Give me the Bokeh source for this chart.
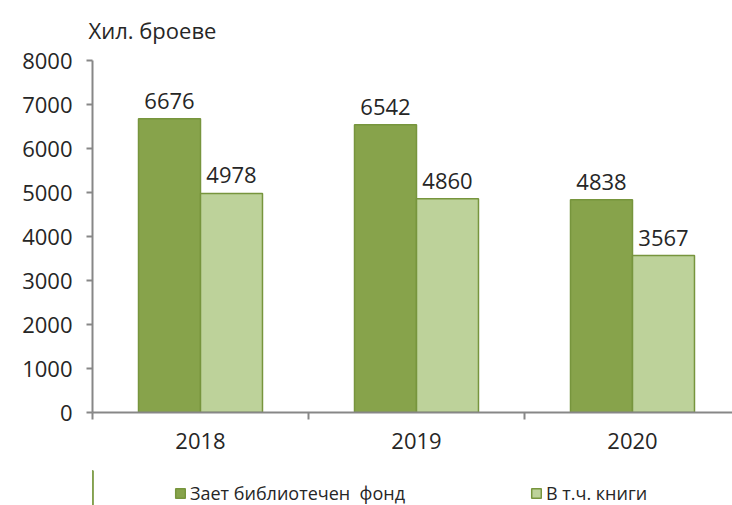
from bokeh.plotting import figure
from bokeh.layouts import column
from bokeh.models import (ColumnDataSource, FixedTicker, LabelSet, Legend,
                          LegendItem, Range1d)
from bokeh.core.properties import value
from bokeh.transform import dodge
from bokeh.embed import file_html
from bokeh.resources import INLINE

years = ["2018", "2019", "2020"]
fund = [6676, 6542, 4838]
books = [4978, 4860, 3567]
series_names = ["Зает библиотечен  фонд", "В т.ч. книги"]
y_ticks = [0, 1000, 2000, 3000, 4000, 5000, 6000, 7000, 8000]
unit_label = "Хил. броеве"

FONT = "Open Sans"
TXT = "#262626"
AX = "#878787"
DARK = "#87A34B"
LIGHT = "#BDD29A"
EDGE = "#77953D"
FS = "22px"

centers = [i + 0.5 for i in range(len(years))]
src = ColumnDataSource(dict(x=centers, fund=fund, books=books,
                            fund_t=[str(v) for v in fund],
                            books_t=[str(v) for v in books]))

p = figure(frame_width=640, frame_height=352, output_backend="svg",
           toolbar_location=None,
           x_range=Range1d(0, 2.963), y_range=Range1d(0, 8000),
           min_border_left=92, min_border_right=0, min_border_top=60,
           min_border_bottom=58)
p.outline_line_color = None
p.xgrid.visible = False
p.ygrid.visible = False

p.title.text = unit_label
p.title.align = "left"
p.title.offset = -4
p.title.text_font = FONT
p.title.text_font_size = FS
p.title.text_font_style = "normal"
p.title.text_color = TXT
p.title.standoff = 27
p.title.vertical_align = "top"

bw = 0.287
off = 0.1435
p.vbar(x=dodge("x", -off), top="fund", width=bw, source=src,
       fill_color=DARK, line_color=EDGE, line_width=1.5)
p.vbar(x=dodge("x", off), top="books", width=bw, source=src,
       fill_color=LIGHT, line_color=EDGE, line_width=1.5)

for col, ycol, o in (("fund_t", "fund", -off), ("books_t", "books", off)):
    ls = LabelSet(x=dodge("x", o), y=ycol, text=col, source=src,
                  text_align="center", text_baseline="bottom", y_offset=10,
                  text_font=value(FONT), text_font_size=value(FS),
                  text_color=value(TXT))
    p.add_layout(ls)

# y axis
ya = p.yaxis[0]
ya.ticker = FixedTicker(ticks=y_ticks)
ya.axis_line_color = AX
ya.axis_line_width = 2
ya.major_tick_line_color = AX
ya.major_tick_line_width = 2
ya.major_tick_out = 6
ya.major_tick_in = 0
ya.minor_tick_line_color = None
ya.major_label_standoff = 14
ya.major_label_text_font = FONT
ya.major_label_text_font_size = FS
ya.major_label_text_color = TXT

# x axis
xa = p.xaxis[0]
xa.ticker = FixedTicker(ticks=centers, minor_ticks=[0, 1, 2, 3])
xa.major_label_overrides = {c: y for c, y in zip(centers, years)}
xa.axis_line_color = AX
xa.axis_line_width = 2
xa.major_tick_line_color = None
xa.major_tick_out = 0
xa.minor_tick_line_color = AX
xa.minor_tick_line_width = 2
xa.minor_tick_out = 7
xa.minor_tick_in = 0
xa.major_label_standoff = 13
xa.major_label_text_font = FONT
xa.major_label_text_font_size = FS
xa.major_label_text_color = TXT

# legend strip below the chart (its bars lie outside its own visible range)
p2 = figure(frame_width=732, frame_height=35, output_backend="svg",
            toolbar_location=None, x_range=Range1d(10, 11), y_range=Range1d(0, 1),
            x_axis_location=None, y_axis_location=None,
            min_border_left=0, min_border_right=0, min_border_top=0,
            min_border_bottom=0)
p2.outline_line_color = None
p2.xgrid.visible = False
p2.ygrid.visible = False
l1 = p2.vbar(x="x", top="fund", width=bw, source=src, fill_color=DARK,
             line_color=EDGE, line_width=1.5)
l2 = p2.vbar(x="x", top="books", width=bw, source=src, fill_color=LIGHT,
             line_color=EDGE, line_width=1.5)
lg = Legend(items=[LegendItem(label=series_names[0], renderers=[l1], index=0),
                   LegendItem(label=series_names[1], renderers=[l2], index=0)],
            location=(174, 0), orientation="horizontal",
            border_line_color=None, background_fill_alpha=0,
            glyph_width=12, glyph_height=12, label_standoff=4,
            label_text_font=FONT, label_text_font_size="18px",
            label_text_color=TXT, label_height=14, spacing=125,
            padding=1, margin=0)
p2.add_layout(lg)

open("out.html", "w").write(file_html(column(p, p2, spacing=0), INLINE))
